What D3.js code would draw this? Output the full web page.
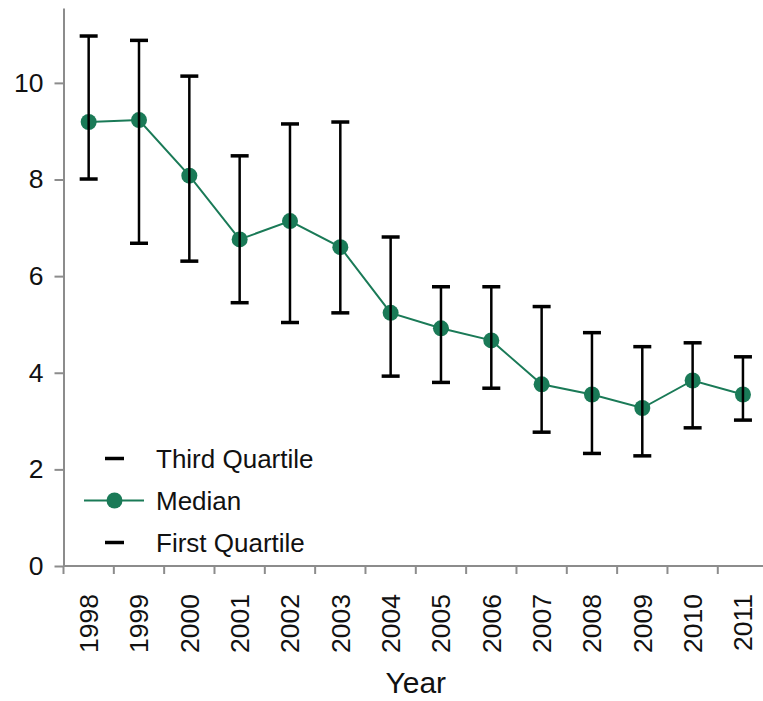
<!DOCTYPE html>
<html>
<head>
<meta charset="utf-8">
<script src="https://cdn.jsdelivr.net/npm/d3@7"></script>
<style>
  html, body { margin: 0; padding: 0; background: #fff; }
  svg { display: block; font-family: "Liberation Sans", Arial, sans-serif; }
</style>
</head>
<body>
<svg id="chart" width="763" height="701"></svg>
<script>
const years = ["1998","1999","2000","2001","2002","2003","2004","2005","2006","2007","2008","2009","2010","2011"];
const thirdQuartile = [10.97, 10.88, 10.14, 8.49, 9.15, 9.19, 6.81, 5.78, 5.78, 5.37, 4.83, 4.54, 4.62, 4.33];
const median = [9.19, 9.23, 8.08, 6.76, 7.14, 6.60, 5.24, 4.92, 4.67, 3.76, 3.55, 3.27, 3.84, 3.55];
const firstQuartile = [8.01, 6.68, 6.31, 5.45, 5.04, 5.24, 3.93, 3.80, 3.68, 2.77, 2.33, 2.28, 2.86, 3.02];
const yTicks = [0, 2, 4, 6, 8, 10];
const legendLabels = ["Third Quartile", "Median", "First Quartile"];
const xTitle = "Year";

(function () {
const green = "#1a7a57";
const axisColor = "#8c8c8c";
const fs = 26;

const svg = d3.select("#chart");
const mLeft = 63.5, mBottom = 566, mTop = 8;
const x = d3.scaleBand().domain(years).range([mLeft, mLeft + 14 * 50.33]).padding(0);
const y = d3.scaleLinear().domain([0, 11.55]).range([mBottom, mTop]);

// Y axis
const yAxis = svg.append("g").attr("transform", `translate(${mLeft},0)`)
  .call(d3.axisLeft(y).tickValues(yTicks).tickSize(9).tickPadding(11).tickSizeOuter(0));
yAxis.select(".domain").attr("stroke", axisColor).attr("stroke-width", 2);
yAxis.selectAll(".tick line").attr("stroke", axisColor).attr("stroke-width", 2);
yAxis.selectAll(".tick text").attr("font-size", fs + 0.5).attr("fill", "#111")
  .attr("font-family", "Liberation Sans, Arial, sans-serif");

// X axis
const xg = svg.append("g");
xg.append("line").attr("x1", mLeft).attr("x2", x.range()[1]).attr("y1", mBottom).attr("y2", mBottom)
  .attr("stroke", axisColor).attr("stroke-width", 2);
xg.selectAll("line.xt").data(years).enter().append("line").attr("class", "xt")
  .attr("x1", d => x(d)).attr("x2", d => x(d)).attr("y1", mBottom).attr("y2", mBottom + 8)
  .attr("stroke", axisColor).attr("stroke-width", 2);
xg.selectAll("text.xl").data(years).enter().append("text").attr("class", "xl")
  .attr("transform", d => `translate(${x(d) + x.bandwidth() / 2},${mBottom + 28}) rotate(-90)`)
  .attr("text-anchor", "end").attr("dy", "0.35em").attr("font-size", fs + 0.5).attr("fill", "#111")
  .text(d => d);
svg.append("text").attr("x", (x.range()[0] + x.range()[1]) / 2).attr("y", 693)
  .attr("text-anchor", "middle").attr("font-size", 30).attr("fill", "#111").text(xTitle);

const cx = d => x(d) + x.bandwidth() / 2;
const rows = years.map((yr, i) => ({ yr, q3: thirdQuartile[i], med: median[i], q1: firstQuartile[i] }));

// Median line
svg.append("path").datum(rows)
  .attr("d", d3.line().x(d => cx(d.yr)).y(d => y(d.med)))
  .attr("fill", "none").attr("stroke", green).attr("stroke-width", 2);
svg.selectAll("circle.m").data(rows).enter().append("circle").attr("class", "m")
  .attr("cx", d => cx(d.yr)).attr("cy", d => y(d.med)).attr("r", 8).attr("fill", green);

// Error bars
const eb = svg.append("g");
eb.selectAll("line.v").data(rows).enter().append("line").attr("class", "v")
  .attr("x1", d => cx(d.yr)).attr("x2", d => cx(d.yr))
  .attr("y1", d => y(d.q3)).attr("y2", d => y(d.q1))
  .attr("stroke", "#000").attr("stroke-width", 2.5);
["q3", "q1"].forEach(k => {
  eb.selectAll("line.c" + k).data(rows).enter().append("line").attr("class", "c" + k)
    .attr("x1", d => cx(d.yr) - 9).attr("x2", d => cx(d.yr) + 9)
    .attr("y1", d => y(d[k])).attr("y2", d => y(d[k]))
    .attr("stroke", "#000").attr("stroke-width", 3.5);
});

// Legend
const lg = svg.append("g");
const ly = [458.5, 500.5, 542.5];
lg.append("line").attr("x1", 105).attr("x2", 124).attr("y1", ly[0]).attr("y2", ly[0]).attr("stroke", "#000").attr("stroke-width", 3.5);
lg.append("line").attr("x1", 84).attr("x2", 144).attr("y1", ly[1]).attr("y2", ly[1]).attr("stroke", green).attr("stroke-width", 2);
lg.append("circle").attr("cx", 114.5).attr("cy", ly[1]).attr("r", 8).attr("fill", green);
lg.append("line").attr("x1", 105).attr("x2", 124).attr("y1", ly[2]).attr("y2", ly[2]).attr("stroke", "#000").attr("stroke-width", 3.5);
lg.selectAll("text").data(legendLabels).enter().append("text")
  .attr("x", 156).attr("y", (d, i) => ly[i]).attr("dy", "0.35em")
  .attr("font-size", fs).attr("fill", "#111").text(d => d);
})();
</script>
</body>
</html>
